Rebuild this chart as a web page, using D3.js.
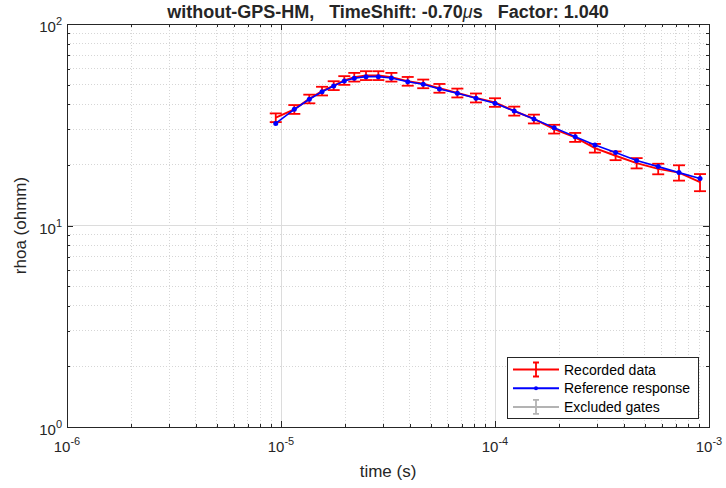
<!DOCTYPE html>
<html>
<head>
<meta charset="utf-8">
<script src="https://cdn.jsdelivr.net/npm/d3@7"></script>
<style>
  body { margin: 0; background: #fff; }
  text { font-family: "Liberation Sans", Arial, Helvetica, sans-serif; fill: #262626; }
</style>
</head>
<body>
<div id="chart"></div>
<script>
// gate times (s)
var gateTimes = [9.45e-6, 1.154e-5, 1.356e-5, 1.555e-5, 1.763e-5, 1.976e-5, 2.20e-5, 2.496e-5,
    2.85e-5, 3.28e-5, 3.91e-5, 4.62e-5, 5.50e-5, 6.67e-5, 8.15e-5, 1.0e-4, 1.23e-4, 1.52e-4,
    1.89e-4, 2.37e-4, 2.93e-4, 3.66e-4, 4.59e-4, 5.79e-4, 7.24e-4, 9.08e-4];
// recorded data (ohmm) and its error
var recorded = [34.3, 37.7, 42.5, 46.5, 49.5, 52.5, 54.5, 55.5, 55.5, 54.5, 52.0, 50.5, 48.0,
    45.5, 43.0, 40.8, 37.0, 33.8, 30.1, 27.4, 24.2, 22.2, 20.4, 19.1, 18.3, 16.4];
var recordedErr = [1.7, 1.9, 2.1, 2.3, 2.5, 2.6, 2.7, 2.8, 2.8, 2.7, 2.6, 2.5, 2.4,
    2.3, 2.2, 2.0, 1.9, 1.7, 1.5, 1.4, 1.2, 1.1, 1.2, 1.15, 1.6, 1.6];
// reference response
var reference = [32.1, 37.7, 42.3, 46.1, 49.2, 52.2, 53.8, 54.8, 54.8, 54.0, 51.7, 50.2, 47.6,
    45.3, 42.8, 40.4, 37.0, 33.8, 30.6, 27.6, 25.1, 23.0, 21.0, 19.6, 18.3, 17.1];

var xTicks = [1e-6, 1e-5, 1e-4, 1e-3];
var xTickExp = ["-6", "-5", "-4", "-3"];
var yTicks = [1, 10, 100];
var yTickExp = ["0", "1", "2"];
var legendLabels = ["Recorded data", "Reference response", "Excluded gates"];

var svgWidth = 726;
var svgHeight = 488;
var margin = {top: 24, right: 17, bottom: 61, left: 67};
var width = svgWidth - margin.left - margin.right;
var height = svgHeight - margin.top - margin.bottom;

var svg = d3.select("#chart").append("svg")
    .attr("width", svgWidth)
    .attr("height", svgHeight);

var g = svg.append("g")
    .attr("transform", `translate(${margin.left}, ${margin.top})`);

var x = d3.scaleLog().domain([1e-6, 1e-3]).range([0, width]);
var y = d3.scaleLog().domain([1, 100]).range([height, 0]);

// minor positions 2..9 in each decade
var xMinor = [], yMinor = [];
xTicks.slice(0, -1).forEach(function(t) { for (var k = 2; k < 10; k++) xMinor.push(t * k); });
yTicks.slice(0, -1).forEach(function(t) { for (var k = 2; k < 10; k++) yMinor.push(t * k); });

// grid
g.selectAll(".xminor").data(xMinor).enter().append("line")
    .attr("x1", d => x(d)).attr("x2", d => x(d)).attr("y1", 0).attr("y2", height)
    .attr("stroke", "#d6d6d6").attr("stroke-dasharray", "1,2").attr("shape-rendering", "crispEdges");
g.selectAll(".yminor").data(yMinor).enter().append("line")
    .attr("y1", d => y(d)).attr("y2", d => y(d)).attr("x1", 0).attr("x2", width)
    .attr("stroke", "#d6d6d6").attr("stroke-dasharray", "1,2").attr("shape-rendering", "crispEdges");
g.selectAll(".xmajor").data(xTicks).enter().append("line")
    .attr("x1", d => x(d)).attr("x2", d => x(d)).attr("y1", 0).attr("y2", height)
    .attr("stroke", "#dcdcdc").attr("shape-rendering", "crispEdges");
g.selectAll(".ymajor").data(yTicks).enter().append("line")
    .attr("y1", d => y(d)).attr("y2", d => y(d)).attr("x1", 0).attr("x2", width)
    .attr("stroke", "#dcdcdc").attr("shape-rendering", "crispEdges");

// axes with inside ticks (box on)
function tickAxis(axis, vals, size) {
    return axis.tickValues(vals).tickSizeInner(-size).tickSizeOuter(0).tickFormat("");
}
[[d3.axisBottom, `translate(0,${height})`], [d3.axisTop, "translate(0,0)"]].forEach(function(a) {
    g.append("g").attr("transform", a[1]).call(tickAxis(a[0](x), xTicks, 6));
    g.append("g").attr("transform", a[1]).call(tickAxis(a[0](x), xMinor, 3));
});
[[d3.axisLeft, "translate(0,0)"], [d3.axisRight, `translate(${width},0)`]].forEach(function(a) {
    g.append("g").attr("transform", a[1]).call(tickAxis(a[0](y), yTicks, 6));
    g.append("g").attr("transform", a[1]).call(tickAxis(a[0](y), yMinor, 3));
});
g.selectAll(".domain").remove();
g.selectAll(".tick line").attr("stroke", "#262626").attr("shape-rendering", "crispEdges");

g.append("rect")
    .attr("width", width).attr("height", height)
    .attr("fill", "none").attr("stroke", "#262626").attr("shape-rendering", "crispEdges");

// tick labels with superscript
xTicks.forEach(function(t, i) {
    var txt = g.append("text")
        .attr("x", x(t)).attr("y", height + 25)
        .attr("text-anchor", "middle").style("font-size", "15px");
    txt.append("tspan").text("10");
    txt.append("tspan").attr("dy", -7).style("font-size", "11px").text(xTickExp[i]);
});
yTicks.forEach(function(t, i) {
    var txt = g.append("text")
        .attr("x", -5).attr("y", y(t) + 8)
        .attr("text-anchor", "end").style("font-size", "15px");
    txt.append("tspan").text("10");
    txt.append("tspan").attr("dy", -7).style("font-size", "11px").text(yTickExp[i]);
});

// axis labels
g.append("text")
    .attr("x", width / 2).attr("y", height + 50)
    .attr("text-anchor", "middle").style("font-size", "17px")
    .text("time (s)");
g.append("text")
    .attr("transform", "rotate(-90)")
    .attr("x", -height / 2).attr("y", -41)
    .attr("text-anchor", "middle").style("font-size", "17px")
    .text("rhoa (ohmm)");

// title
var title = svg.append("text")
    .attr("x", margin.left + width / 2).attr("y", 18)
    .attr("text-anchor", "middle")
    .style("font-size", "18px").style("font-weight", "bold")
    .attr("xml:space", "preserve");
title.append("tspan").text("without-GPS-HM,   TimeShift: -0.70");
title.append("tspan").style("font-style", "italic").style("font-weight", "normal").text("\u03bc");
title.append("tspan").text("s   Factor: 1.040");

// recorded data with error bars
var recData = gateTimes.map((t, i) => ({t: t, v: recorded[i], e: recordedErr[i]}));
var line = d3.line().x(d => x(d.t)).y(d => y(d.v));

g.append("path").datum(recData)
    .attr("d", line)
    .attr("fill", "none").attr("stroke", "#ff0000").attr("stroke-width", 2);

var capW = 6;
var bars = g.selectAll(".err").data(recData).enter().append("g")
    .attr("stroke", "#ff0000").attr("stroke-width", 1.8);
bars.append("line")
    .attr("x1", d => x(d.t)).attr("x2", d => x(d.t))
    .attr("y1", d => y(d.v - d.e)).attr("y2", d => y(d.v + d.e));
bars.append("line")
    .attr("x1", d => x(d.t) - capW).attr("x2", d => x(d.t) + capW)
    .attr("y1", d => y(d.v + d.e)).attr("y2", d => y(d.v + d.e));
bars.append("line")
    .attr("x1", d => x(d.t) - capW).attr("x2", d => x(d.t) + capW)
    .attr("y1", d => y(d.v - d.e)).attr("y2", d => y(d.v - d.e));

// reference response
var refData = gateTimes.map((t, i) => ({t: t, v: reference[i]}));
g.append("path").datum(refData)
    .attr("d", line)
    .attr("fill", "none").attr("stroke", "#0000ff").attr("stroke-width", 1.6);
g.selectAll(".dot").data(refData).enter().append("circle")
    .attr("cx", d => x(d.t)).attr("cy", d => y(d.v))
    .attr("r", 2.5).attr("fill", "#0000ff");

// legend
var legend = svg.append("g").attr("transform", "translate(507, 357)");
legend.append("rect")
    .attr("width", 191).attr("height", 61)
    .attr("fill", "#fff").attr("stroke", "#262626").attr("shape-rendering", "crispEdges");
var legColors = ["#ff0000", "#0000ff", "#b3b3b3"];
legendLabels.forEach(function(lab, i) {
    var cy = 12.5 + i * 18.7;
    var row = legend.append("g");
    row.append("line")
        .attr("x1", 6).attr("x2", 52).attr("y1", cy).attr("y2", cy)
        .attr("stroke", legColors[i]).attr("stroke-width", 2);
    if (i === 1) {
        row.append("circle").attr("cx", 29).attr("cy", cy).attr("r", 2).attr("fill", legColors[i]);
    } else {
        row.append("path")
            .attr("d", `M29,${cy - 7}V${cy + 7}M26,${cy - 7}H32M26,${cy + 7}H32`)
            .attr("stroke", legColors[i]).attr("stroke-width", 1.8).attr("fill", "none");
    }
    row.append("text")
        .attr("x", 57).attr("y", cy + 5)
        .style("font-size", "14px").style("fill", "#000")
        .text(lab);
});
</script>
</body>
</html>
